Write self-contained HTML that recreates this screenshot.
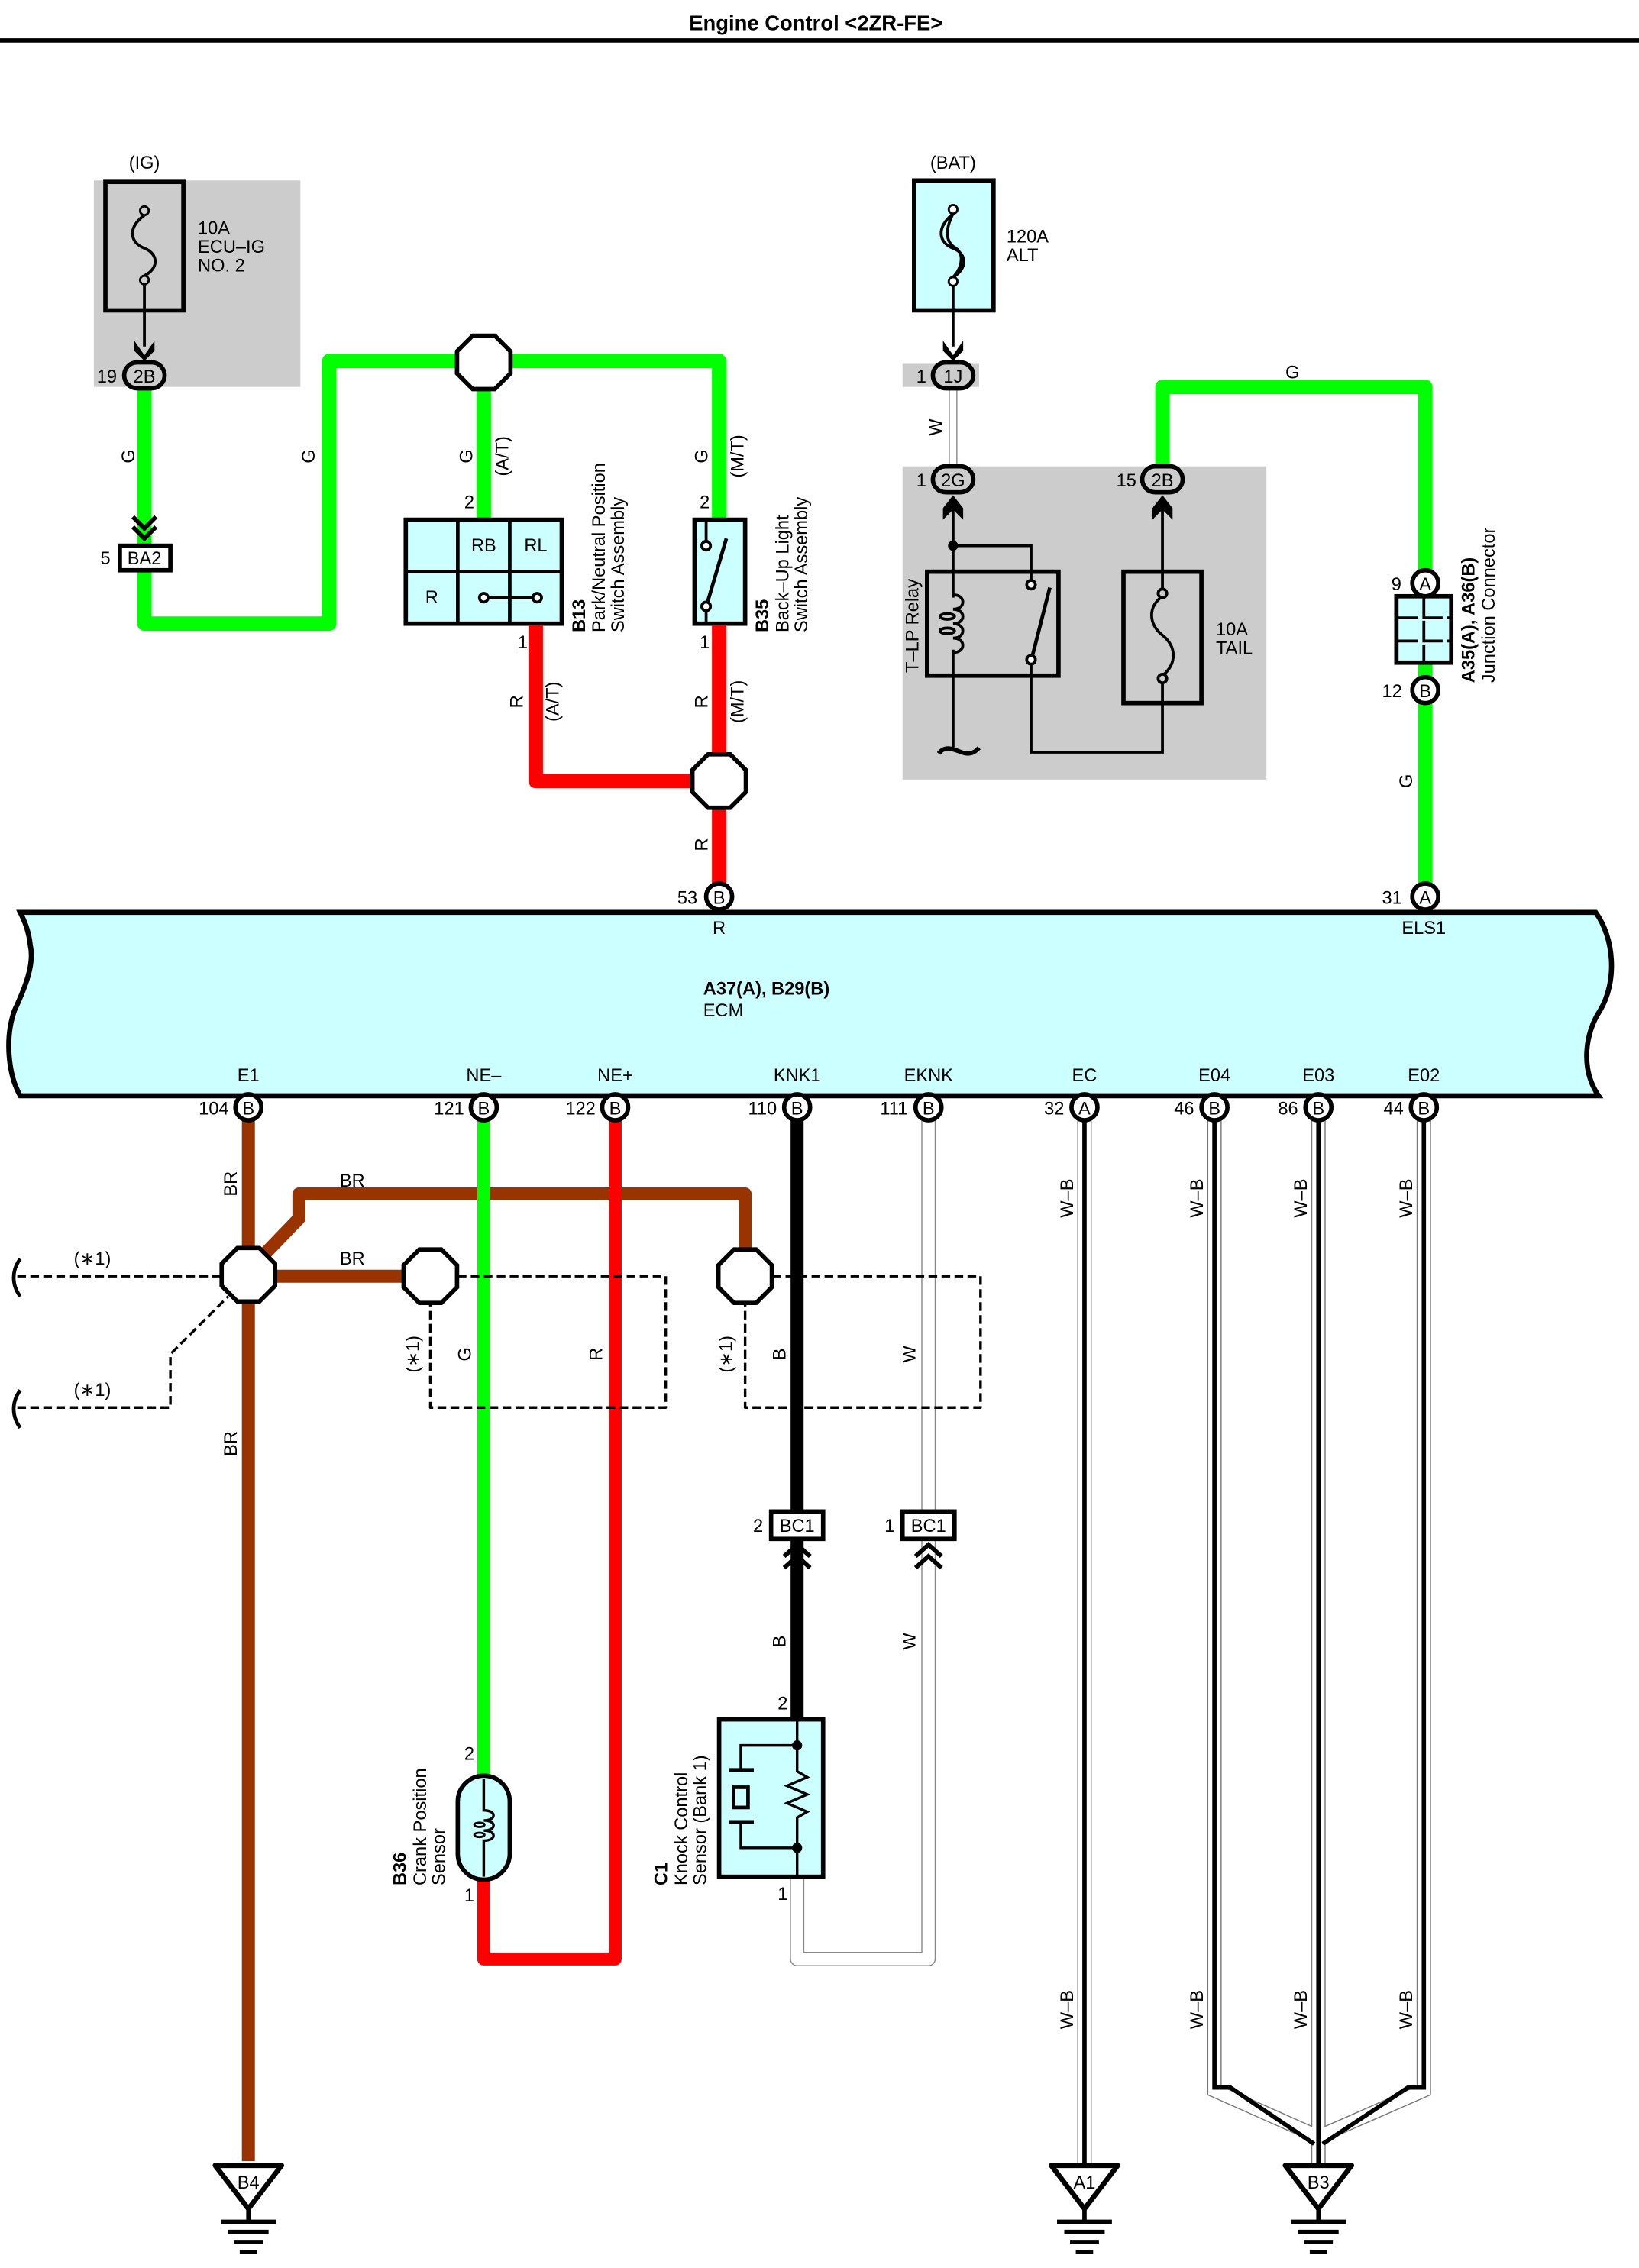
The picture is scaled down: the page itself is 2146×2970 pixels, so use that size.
<!DOCTYPE html>
<html><head><meta charset="utf-8"><style>
html,body{margin:0;padding:0;background:#fff}
svg{display:block}
text{font-family:"Liberation Sans",sans-serif;font-size:12.5px;fill:#000}
.b{font-weight:bold}
</style></head><body>
<svg width="2146" height="2970" viewBox="0 0 1135 1571" preserveAspectRatio="none" xmlns="http://www.w3.org/2000/svg">
<defs>
<polygon id="oct" points="7.65,-18.5 18.5,-7.65 18.5,7.65 7.65,18.5 -7.65,18.5 -18.5,7.65 -18.5,-7.65 -7.65,-18.5" fill="#fff" stroke="#000" stroke-width="3"/>
</defs>
<rect width="1135" height="1571" fill="#fff"/>
<text x="565" y="21" text-anchor="middle" class="b" style="font-size:14.5px">Engine Control &lt;2ZR-FE&gt;</text>
<line x1="0" y1="28" x2="1135" y2="28" stroke="#000" stroke-width="3"/>

<!-- gray boxes -->
<rect x="65" y="125" width="143" height="143" fill="#cccccc"/>
<rect x="625" y="252" width="53" height="16" fill="#cccccc"/>
<rect x="625" y="323" width="252" height="217" fill="#cccccc"/>

<!-- IG fuse -->
<text x="100" y="117" text-anchor="middle">(IG)</text>
<rect x="73" y="126" width="54" height="89" fill="#cccccc" stroke="#000" stroke-width="3"/>
<circle cx="100" cy="146" r="3" fill="none" stroke="#000" stroke-width="1.5"/>
<circle cx="100" cy="194" r="3" fill="none" stroke="#000" stroke-width="1.5"/>
<path d="M100,149 C88,158 90,168 100,172 C110,176 110,186 100,191" fill="none" stroke="#000" stroke-width="2"/>
<line x1="100" y1="197" x2="100" y2="240" stroke="#000" stroke-width="2"/>
<path d="M93,236 L100,246 L107,236 L107,243 L100,250 L93,243Z" fill="#000"/>
<text x="137" y="162">10A</text><text x="137" y="175">ECU–IG</text><text x="137" y="188">NO. 2</text>

<!-- green top-left -->
<g fill="none" stroke="#00ff00" stroke-width="10" stroke-linejoin="round">
<path d="M100,268 L100,432 L228,432 L228,250 L498,250 L498,360"/>
<path d="M335,250 L335,360"/>
<path d="M805,340 L805,268 L987,268 L987,612"/>
</g>
<rect x="86" y="251" width="28" height="18" rx="9" fill="#ccc" stroke="#000" stroke-width="3"/>
<text x="100" y="265" text-anchor="middle">2B</text><text x="74" y="265" text-anchor="middle">19</text>
<text transform="rotate(-90 93 316)" x="93" y="316" text-anchor="middle">G</text>
<text transform="rotate(-90 218 316)" x="218" y="316" text-anchor="middle">G</text>
<path d="M92,358 L100,366 L108,358 M92,365 L100,373 L108,365" fill="none" stroke="#000" stroke-width="3"/>
<rect x="83" y="378" width="35" height="17" fill="#fff" stroke="#000" stroke-width="3"/>
<text x="100" y="391" text-anchor="middle">BA2</text><text x="73" y="391" text-anchor="middle">5</text>
<use href="#oct" x="335" y="251"/>
<text transform="rotate(-90 327 316)" x="327" y="316" text-anchor="middle">G</text>
<text transform="rotate(-90 352 316)" x="352" y="316" text-anchor="middle">(A/T)</text>
<text transform="rotate(-90 490 316)" x="490" y="316" text-anchor="middle">G</text>
<text transform="rotate(-90 515 316)" x="515" y="316" text-anchor="middle">(M/T)</text>

<!-- B13 -->
<rect x="281" y="360" width="108" height="72" fill="#ccffff" stroke="#000" stroke-width="3"/>
<path d="M317,360 V432 M353,360 V432 M281,396 H389" stroke="#000" stroke-width="2.5"/>
<text x="335" y="382" text-anchor="middle">RB</text><text x="371" y="382" text-anchor="middle">RL</text><text x="299" y="418" text-anchor="middle">R</text>
<line x1="337" y1="414" x2="370" y2="414" stroke="#000" stroke-width="2"/>
<circle cx="335" cy="414" r="3" fill="#fff" stroke="#000" stroke-width="2"/><circle cx="372" cy="414" r="3" fill="#fff" stroke="#000" stroke-width="2"/>
<text x="325" y="352" text-anchor="middle">2</text><text x="362" y="449" text-anchor="middle">1</text>
<text transform="rotate(-90 405 438)" x="405" y="438" class="b">B13</text>
<text transform="rotate(-90 419 438)" x="419" y="438">Park/Neutral Position</text>
<text transform="rotate(-90 432 438)" x="432" y="438">Switch Assembly</text>
<!-- B35 -->
<rect x="481" y="360" width="35" height="72" fill="#ccffff" stroke="#000" stroke-width="3"/>
<circle cx="489" cy="378" r="3" fill="#fff" stroke="#000" stroke-width="2"/><circle cx="489" cy="420" r="3" fill="#fff" stroke="#000" stroke-width="2"/>
<line x1="489" y1="360" x2="489" y2="375" stroke="#000" stroke-width="2"/>
<line x1="489" y1="423" x2="489" y2="432" stroke="#000" stroke-width="2"/>
<line x1="490" y1="417" x2="503" y2="373" stroke="#000" stroke-width="2.5"/>
<text x="488" y="352" text-anchor="middle">2</text><text x="488" y="449" text-anchor="middle">1</text>
<text transform="rotate(-90 532 438)" x="532" y="438" class="b">B35</text>
<text transform="rotate(-90 546 438)" x="546" y="438">Back–Up Light</text>
<text transform="rotate(-90 559 438)" x="559" y="438">Switch Assembly</text>

<!-- red top -->
<g fill="none" stroke="#ff0000" stroke-width="10" stroke-linejoin="round">
<path d="M371,433 L371,541 L480,541"/><path d="M498,433 L498,612"/>
</g>
<use href="#oct" x="498" y="541"/>
<text transform="rotate(-90 362 486)" x="362" y="486" text-anchor="middle">R</text>
<text transform="rotate(-90 387 486)" x="387" y="486" text-anchor="middle">(A/T)</text>
<text transform="rotate(-90 490 486)" x="490" y="486" text-anchor="middle">R</text>
<text transform="rotate(-90 515 486)" x="515" y="486" text-anchor="middle">(M/T)</text>
<text transform="rotate(-90 490 585)" x="490" y="585" text-anchor="middle">R</text>

<!-- BAT -->
<text x="660" y="117" text-anchor="middle">(BAT)</text>
<rect x="633" y="125" width="55" height="90" fill="#ccffff" stroke="#000" stroke-width="3"/>
<circle cx="660" cy="145" r="3" fill="#fff" stroke="#000" stroke-width="1.5"/>
<circle cx="660" cy="195" r="3" fill="#fff" stroke="#000" stroke-width="1.5"/>
<path d="M660,148 C648,158 650,168 660,172 C670,176 670,186 660,192 M660,148 C654,160 655,168 662,172 C668,176 666,186 660,192" fill="none" stroke="#000" stroke-width="2"/>
<line x1="660" y1="198" x2="660" y2="240" stroke="#000" stroke-width="2"/>
<path d="M653,236 L660,246 L667,236 L667,243 L660,250 L653,243Z" fill="#000"/>
<text x="697" y="168">120A</text><text x="697" y="181">ALT</text>
<line x1="660" y1="268" x2="660" y2="324" stroke="#888" stroke-width="6"/><line x1="660" y1="268" x2="660" y2="324" stroke="#fff" stroke-width="4.5"/>
<text transform="rotate(-90 652 296)" x="652" y="296" text-anchor="middle">W</text>
<rect x="646" y="251" width="28" height="18" rx="9" fill="#ccc" stroke="#000" stroke-width="3"/>
<text x="660" y="265" text-anchor="middle">1J</text><text x="638" y="265" text-anchor="middle">1</text>
<rect x="646" y="323" width="28" height="18" rx="9" fill="#ccc" stroke="#000" stroke-width="3"/>
<text x="660" y="337" text-anchor="middle">2G</text><text x="638" y="337" text-anchor="middle">1</text>
<rect x="791" y="323" width="28" height="18" rx="9" fill="#ccc" stroke="#000" stroke-width="3"/>
<text x="805" y="337" text-anchor="middle">2B</text><text x="780" y="337" text-anchor="middle">15</text>
<path d="M653,352 L660,343 L667,352 L667,360 L660,353 L653,360Z" fill="#000"/>
<path d="M798,352 L805,343 L812,352 L812,360 L805,353 L798,360Z" fill="#000"/>
<g fill="none" stroke="#000" stroke-width="2">
<path d="M660,352 V414 M660,450 V518"/>
<path d="M660,412 C669,412 669,422 660,422 C669,422 669,432 660,432 C669,432 669,442 660,442 C669,442 669,452 660,452"/>
<ellipse cx="656" cy="427" rx="5" ry="2"/><ellipse cx="656" cy="437" rx="5" ry="2"/>
<path d="M660,378 H714 V402"/>
<path d="M714,460 V521 H805 V487"/>
<path d="M805,352 V410 M805,472 V487"/>
<path d="M805,413 C795,420 795,432 805,440 C815,448 815,460 805,468"/>
<path d="M650,522 C656,514 664,522 670,522 C674,522 676,520 678,518" stroke-width="3"/>
</g>
<circle cx="660" cy="378" r="3.5" fill="#000"/>
<circle cx="714" cy="405" r="3" fill="#fff" stroke="#000" stroke-width="2"/><circle cx="714" cy="457" r="3" fill="#fff" stroke="#000" stroke-width="2"/>
<line x1="715" y1="454" x2="727" y2="407" stroke="#000" stroke-width="2.5"/>
<circle cx="805" cy="411" r="3" fill="#ccc" stroke="#000" stroke-width="2"/><circle cx="805" cy="470" r="3" fill="#ccc" stroke="#000" stroke-width="2"/>
<rect x="642" y="396" width="91" height="72" fill="none" stroke="#000" stroke-width="3"/>
<rect x="778" y="396" width="54" height="91" fill="none" stroke="#000" stroke-width="3"/>
<text transform="rotate(-90 636 466)" x="636" y="466">T–LP Relay</text>
<text x="842" y="440">10A</text><text x="842" y="453">TAIL</text>
<text x="895" y="262" text-anchor="middle">G</text>

<!-- junction connector -->
<rect x="967" y="413" width="38" height="46" fill="#ccffff" stroke="#000" stroke-width="3"/>
<path d="M986,413 V459 M968,428 H1004 M968,444 H1004" stroke="#000" stroke-width="2" stroke-dasharray="14,3"/>
<circle cx="987" cy="404" r="9" fill="#fff" stroke="#000" stroke-width="3"/><text x="987" y="409" text-anchor="middle">A</text>
<circle cx="987" cy="478" r="9" fill="#fff" stroke="#000" stroke-width="3"/><text x="987" y="483" text-anchor="middle">B</text>
<text x="967" y="409" text-anchor="middle">9</text><text x="964" y="483" text-anchor="middle">12</text>
<text transform="rotate(-90 1021 473)" x="1021" y="473" class="b">A35(A), A36(B)</text>
<text transform="rotate(-90 1035 473)" x="1035" y="473">Junction Connector</text>
<text transform="rotate(-90 978 541)" x="978" y="541" text-anchor="middle">G</text>

<!-- ECM -->
<path d="M14,632 L1105,632 C1118,650 1120,680 1108,700 C1098,715 1094,740 1107,759 L14,759 C6,745 3,720 10,700 C17,685 24,668 21,655 C20,645 17,638 14,632Z" fill="#ccffff" stroke="#000" stroke-width="3.5"/>
<text x="498" y="647" text-anchor="middle">R</text><text x="986" y="647" text-anchor="middle">ELS1</text>
<text x="487" y="689" class="b">A37(A), B29(B)</text><text x="487" y="704">ECM</text>
<g text-anchor="middle">
<text x="172" y="749">E1</text><text x="335" y="749">NE–</text><text x="426" y="749">NE+</text><text x="552" y="749">KNK1</text><text x="643" y="749">EKNK</text><text x="751" y="749">EC</text><text x="841" y="749">E04</text><text x="913" y="749">E03</text><text x="986" y="749">E02</text>
</g>
<circle cx="498" cy="621" r="9" fill="#fff" stroke="#000" stroke-width="3"/><text x="498" y="626" text-anchor="middle">B</text><text x="476" y="626" text-anchor="middle">53</text>
<circle cx="987" cy="621" r="9" fill="#fff" stroke="#000" stroke-width="3"/><text x="987" y="626" text-anchor="middle">A</text><text x="964" y="626" text-anchor="middle">31</text>

<!-- lower wires -->
<g fill="none" stroke-linejoin="round">
<path d="M172,776 V1497" stroke="#993300" stroke-width="9"/>
<path d="M182,870 L207,844 V827 H516 V866" stroke="#993300" stroke-width="9"/>
<path d="M180,884 H285" stroke="#993300" stroke-width="9"/>
<path d="M335,776 V1232" stroke="#00ff00" stroke-width="9"/>
<path d="M426,776 V1357 H335 V1300" stroke="#ff0000" stroke-width="9"/>
<path d="M552,776 V1192" stroke="#000" stroke-width="9"/>
<path d="M643,776 V1357 H552 V1300" stroke="#888" stroke-width="10"/>
<path d="M643,776 V1357 H552 V1300" stroke="#fff" stroke-width="8.5"/>
<g stroke-dasharray="6,3" stroke="#000" stroke-width="1.8">
<path d="M12,884 H154"/><path d="M12,975 H118 V938 L158,898"/>
<path d="M317,884 H461 V975 H298 V902"/>
<path d="M535,884 H679 V975 H516 V902"/>
</g>
<path d="M14,872 C8,880 8,890 14,898 M14,963 C8,971 8,981 14,989" stroke="#000" stroke-width="2.5"/>
</g>
<use href="#oct" x="172" y="883"/><use href="#oct" x="298" y="884"/><use href="#oct" x="516" y="884"/>
<text transform="rotate(-90 164 820)" x="164" y="820" text-anchor="middle">BR</text>
<text transform="rotate(-90 164 1000)" x="164" y="1000" text-anchor="middle">BR</text>
<text x="244" y="822" text-anchor="middle">BR</text><text x="244" y="876" text-anchor="middle">BR</text>
<text x="64" y="876" text-anchor="middle">(∗1)</text><text x="64" y="967" text-anchor="middle">(∗1)</text>
<text transform="rotate(-90 290 938)" x="290" y="938" text-anchor="middle">(∗1)</text>
<text transform="rotate(-90 507 938)" x="507" y="938" text-anchor="middle">(∗1)</text>
<text transform="rotate(-90 326 938)" x="326" y="938" text-anchor="middle">G</text>
<text transform="rotate(-90 417 938)" x="417" y="938" text-anchor="middle">R</text>
<text transform="rotate(-90 544 938)" x="544" y="938" text-anchor="middle">B</text>
<text transform="rotate(-90 634 938)" x="634" y="938" text-anchor="middle">W</text>
<text transform="rotate(-90 544 1137)" x="544" y="1137" text-anchor="middle">B</text>
<text transform="rotate(-90 634 1137)" x="634" y="1137" text-anchor="middle">W</text>

<!-- W-B wires -->
<g fill="none" stroke-linejoin="miter">
<g stroke="#777" stroke-width="10"><path d="M751,776 V1500"/><path d="M841,776 V1448 L913,1480 M986,776 V1448 L913,1480"/><path d="M913,776 V1500"/></g>
<g stroke="#fff" stroke-width="8.5"><path d="M751,776 V1500"/><path d="M841,776 V1448 L913,1480 M986,776 V1448 L913,1480"/><path d="M913,776 V1500"/></g>
<g stroke="#000" stroke-width="3"><path d="M751,776 V1500"/><path d="M841,776 V1446 H852 L910,1485 M986,776 V1446 H975 L916,1485"/><path d="M913,776 V1500"/></g>
</g>
<g transform="translate(0,0)">
<text transform="rotate(-90 743 830)" x="743" y="830" text-anchor="middle">W–B</text>
<text transform="rotate(-90 833 830)" x="833" y="830" text-anchor="middle">W–B</text>
<text transform="rotate(-90 905 830)" x="905" y="830" text-anchor="middle">W–B</text>
<text transform="rotate(-90 978 830)" x="978" y="830" text-anchor="middle">W–B</text>
<text transform="rotate(-90 743 1392)" x="743" y="1392" text-anchor="middle">W–B</text>
<text transform="rotate(-90 833 1392)" x="833" y="1392" text-anchor="middle">W–B</text>
<text transform="rotate(-90 905 1392)" x="905" y="1392" text-anchor="middle">W–B</text>
<text transform="rotate(-90 978 1392)" x="978" y="1392" text-anchor="middle">W–B</text>
</g>

<!-- ECM bottom connectors -->
<g>
<circle cx="172" cy="767" r="9" fill="#fff" stroke="#000" stroke-width="3"/><text x="172" y="772" text-anchor="middle">B</text><text x="148" y="772" text-anchor="middle">104</text>
<circle cx="335" cy="767" r="9" fill="#fff" stroke="#000" stroke-width="3"/><text x="335" y="772" text-anchor="middle">B</text><text x="311" y="772" text-anchor="middle">121</text>
<circle cx="426" cy="767" r="9" fill="#fff" stroke="#000" stroke-width="3"/><text x="426" y="772" text-anchor="middle">B</text><text x="402" y="772" text-anchor="middle">122</text>
<circle cx="552" cy="767" r="9" fill="#fff" stroke="#000" stroke-width="3"/><text x="552" y="772" text-anchor="middle">B</text><text x="528" y="772" text-anchor="middle">110</text>
<circle cx="643" cy="767" r="9" fill="#fff" stroke="#000" stroke-width="3"/><text x="643" y="772" text-anchor="middle">B</text><text x="619" y="772" text-anchor="middle">111</text>
<circle cx="751" cy="767" r="9" fill="#fff" stroke="#000" stroke-width="3"/><text x="751" y="772" text-anchor="middle">A</text><text x="730" y="772" text-anchor="middle">32</text>
<circle cx="841" cy="767" r="9" fill="#fff" stroke="#000" stroke-width="3"/><text x="841" y="772" text-anchor="middle">B</text><text x="820" y="772" text-anchor="middle">46</text>
<circle cx="913" cy="767" r="9" fill="#fff" stroke="#000" stroke-width="3"/><text x="913" y="772" text-anchor="middle">B</text><text x="892" y="772" text-anchor="middle">86</text>
<circle cx="986" cy="767" r="9" fill="#fff" stroke="#000" stroke-width="3"/><text x="986" y="772" text-anchor="middle">B</text><text x="965" y="772" text-anchor="middle">44</text>
</g>

<!-- BC1 connectors -->
<rect x="534" y="1047" width="36" height="19" fill="#fff" stroke="#000" stroke-width="3"/>
<text x="552" y="1061" text-anchor="middle">BC1</text><text x="525" y="1061" text-anchor="middle">2</text>
<rect x="625" y="1047" width="36" height="19" fill="#fff" stroke="#000" stroke-width="3"/>
<text x="643" y="1061" text-anchor="middle">BC1</text><text x="616" y="1061" text-anchor="middle">1</text>
<path d="M543,1078 L552,1070 L561,1078 M543,1086 L552,1078 L561,1086" fill="none" stroke="#000" stroke-width="3"/>
<path d="M634,1078 L643,1070 L652,1078 M634,1086 L643,1078 L652,1086" fill="none" stroke="#000" stroke-width="3"/>

<!-- B36 -->
<rect x="317" y="1230" width="36" height="72" rx="18" fill="#ccffff" stroke="#000" stroke-width="3"/>
<path d="M335,1232 V1254 C344,1254 344,1261 335,1261 C344,1261 344,1268 335,1268 C344,1268 344,1275 335,1275 V1300" fill="none" stroke="#000" stroke-width="1.8"/>
<ellipse cx="332" cy="1264" rx="3.5" ry="1.5" fill="none" stroke="#000" stroke-width="1.5"/><ellipse cx="332" cy="1271" rx="3.5" ry="1.5" fill="none" stroke="#000" stroke-width="1.5"/>
<text x="325" y="1219" text-anchor="middle">2</text><text x="325" y="1317" text-anchor="middle">1</text>
<text transform="rotate(-90 281 1306)" x="281" y="1306" class="b">B36</text>
<text transform="rotate(-90 295 1306)" x="295" y="1306">Crank Position</text>
<text transform="rotate(-90 308 1306)" x="308" y="1306">Sensor</text>

<!-- C1 -->
<rect x="498" y="1191" width="72" height="109" fill="#ccffff" stroke="#000" stroke-width="3"/>
<g fill="none" stroke="#000" stroke-width="1.8">
<path d="M552,1192 V1227 L559,1231 L545,1237 L559,1243 L545,1249 L559,1255 L552,1259 V1300"/>
<path d="M552,1209 H513 V1226 M552,1280 H513 V1262"/>
<path d="M505,1226 H522 M505,1262 H522" stroke-width="2.5"/>
<rect x="508" y="1238" width="10" height="14" stroke-width="2.5"/>
</g>
<circle cx="552" cy="1209" r="3.5" fill="#000"/><circle cx="552" cy="1280" r="3.5" fill="#000"/>
<text x="542" y="1184" text-anchor="middle">2</text><text x="542" y="1316" text-anchor="middle">1</text>
<text transform="rotate(-90 462 1306)" x="462" y="1306" class="b">C1</text>
<text transform="rotate(-90 476 1306)" x="476" y="1306">Knock Control</text>
<text transform="rotate(-90 489 1306)" x="489" y="1306">Sensor (Bank 1)</text>

<!-- grounds -->
<g id="gnd">
<polygon points="149,1500 195,1500 172,1530" fill="#fff" stroke="#000" stroke-width="3.5" stroke-linejoin="round"/>
<path d="M172,1530 V1539 M153,1539 H191 M158,1546 H186 M162,1553 H182 M166,1560 H178" stroke="#000" stroke-width="3"/>
</g>
<text x="172" y="1516" text-anchor="middle">B4</text>
<use href="#gnd" x="579"/><text x="751" y="1516" text-anchor="middle">A1</text>
<use href="#gnd" x="741"/><text x="913" y="1516" text-anchor="middle">B3</text>
</svg>
</body></html>
